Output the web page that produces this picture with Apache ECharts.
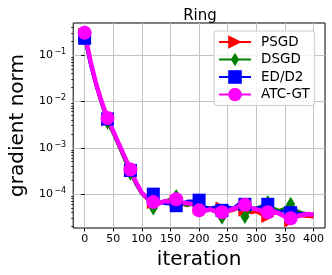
<!DOCTYPE html>
<html><head><meta charset="utf-8">
<script src="https://cdn.jsdelivr.net/npm/echarts@6/dist/echarts.min.js"></script>
<style>html,body{margin:0;padding:0;background:#fff}#c{width:332px;height:275px}</style>
</head><body><div id="c"></div>
<script>
const iterations = [0,10,20,30,40,50,60,70,80,90,100,110,120,130,140,150,160,170,180,190,200,210,220,230,240,250,260,270,280,290,300,310,320,330,340,350,360,370,380,390,400];
const markerIters = [0,40,80,120,160,200,240,280,320,360];
const psgd = [0.282,0.0708,0.0229,0.00912,0.00398,0.00214,0.00112,5.89e-4,3.16e-4,1.66e-4,1.05e-4,7.94e-5,6.61e-5,7.08e-5,6.31e-5,6.61e-5,7.08e-5,6.03e-5,5.62e-5,6.31e-5,5.01e-5,4.68e-5,5.01e-5,4.47e-5,5.01e-5,4.17e-5,4.47e-5,5.01e-5,4.47e-5,3.98e-5,4.17e-5,3.55e-5,3.31e-5,3.80e-5,3.98e-5,3.16e-5,2.63e-5,3.16e-5,3.39e-5,3.31e-5,3.16e-5];
const dsgd = [0.251,0.0661,0.0219,0.00832,0.00355,0.00200,0.00105,5.37e-4,2.82e-4,1.58e-4,1.0e-4,7.59e-5,5.01e-5,6.61e-5,7.08e-5,7.94e-5,8.91e-5,6.31e-5,5.62e-5,7.08e-5,5.25e-5,5.01e-5,4.79e-5,3.98e-5,3.16e-5,4.47e-5,5.01e-5,4.79e-5,3.31e-5,4.47e-5,5.01e-5,5.62e-5,6.61e-5,5.01e-5,4.47e-5,5.01e-5,6.03e-5,4.47e-5,3.98e-5,3.80e-5,3.63e-5];
const edd2 = [0.229,0.0631,0.0219,0.00891,0.00417,0.00219,0.00115,6.03e-4,3.24e-4,1.70e-4,1.05e-4,8.91e-5,1.0e-4,6.61e-5,6.31e-5,6.03e-5,5.62e-5,6.31e-5,7.08e-5,7.24e-5,7.41e-5,5.25e-5,5.01e-5,5.37e-5,4.47e-5,5.25e-5,5.01e-5,6.31e-5,6.03e-5,5.01e-5,5.01e-5,5.25e-5,6.03e-5,4.47e-5,4.17e-5,4.37e-5,3.98e-5,3.98e-5,3.80e-5,3.72e-5,3.55e-5];
const atcgt = [0.302,0.0759,0.0240,0.00955,0.00437,0.00229,0.00120,6.31e-4,3.39e-4,1.78e-4,1.07e-4,7.94e-5,6.76e-5,6.31e-5,7.08e-5,6.76e-5,7.76e-5,6.61e-5,6.31e-5,6.03e-5,4.47e-5,4.37e-5,4.68e-5,4.17e-5,4.07e-5,4.47e-5,4.79e-5,5.50e-5,5.89e-5,5.01e-5,4.68e-5,4.37e-5,4.07e-5,4.27e-5,3.80e-5,3.31e-5,3.02e-5,3.39e-5,3.55e-5,3.72e-5,3.63e-5];
const seriesNames = ['PSGD','DSGD','ED/D2','ATC-GT'];
const xTicks = [0,50,100,150,200,250,300,350,400];
const yTicks = [1e-4,1e-3,1e-2,1e-1];
const yMinorTicks = [2e-5,3e-5,4e-5,5e-5,6e-5,7e-5,8e-5,9e-5,2e-4,3e-4,4e-4,5e-4,6e-4,7e-4,8e-4,9e-4,2e-3,3e-3,4e-3,5e-3,6e-3,7e-3,8e-3,9e-3,2e-2,3e-2,4e-2,5e-2,6e-2,7e-2,8e-2,9e-2,2e-1,3e-1,4e-1];

const FONT = 'DejaVu Sans';
const chart = echarts.init(document.getElementById('c'), null, {renderer:'canvas'});
function mk(name, vals, color, symbol, size, width) {
  return {
    name, type:'line', data: iterations.map((x,i)=>[x, vals[i]]),
    color, symbol,
    symbolSize: (v) => markerIters.indexOf(v[0]) >= 0 ? size : 0,
    showSymbol: true, showAllSymbol: true,
    lineStyle: {color, width}, itemStyle: {color, opacity:1},
    emphasis: {disabled:true}, animation:false
  };
}
chart.setOption({
  backgroundColor:'#fff',
  animation:false,
  title:{text:'Ring', left:195, top:4, textAlign:'center',
    textStyle:{fontFamily:FONT, fontSize:15, fontWeight:'normal', color:'#000'}},
  grid:{left:62, right:7, top:23, bottom:47, show:true, borderColor:'#000', borderWidth:1, backgroundColor:'transparent'},
  legend:{
    data: seriesNames, orient:'vertical', left:214, top:31,
    padding:[4,5,4,4], itemGap:3.5, itemWidth:32, itemHeight:17,
    backgroundColor:'rgba(255,255,255,0.85)', borderColor:'#cccccc', borderWidth:1, borderRadius:3,
    textStyle:{fontFamily:FONT, fontSize:13.5, color:'#000', padding:[0,0,0,5]}
  },
  xAxis:{
    type:'value', min:-20, max:420,
    name:'iteration', nameLocation:'middle', nameGap:19,
    nameTextStyle:{fontFamily:FONT, fontSize:20, color:'#000'},
    axisLine:{show:false},
    axisTick:{show:true, length:3.5, customValues:xTicks, lineStyle:{color:'#000'}},
    axisLabel:{customValues:xTicks, fontFamily:FONT, fontSize:11, color:'#000', margin:6},
    splitLine:{show:true, lineStyle:{color:'#c4c4c4', width:1}}
  },
  yAxis:[{
    type:'log', min:1.86e-5, max:0.49, logBase:10,
    name:'gradient norm', nameLocation:'middle', nameGap:33,
    nameTextStyle:{fontFamily:FONT, fontSize:20, color:'#000'},
    axisLine:{show:false},
    axisTick:{show:true, length:3.5, customValues:yTicks, lineStyle:{color:'#000'}},
    axisLabel:{customValues:yTicks, margin:7, fontFamily:FONT, color:'#000',
      formatter:(v)=>'{b|10}{s|\u2212'+Math.round(-Math.log10(v))+'}',
      rich:{b:{fontFamily:FONT, fontSize:11, color:'#000'}, s:{fontFamily:FONT, fontSize:8, color:'#000', padding:[0,0,6,1.5]}}},
    splitLine:{show:true, lineStyle:{color:'#c4c4c4', width:1}}
  },{
    type:'log', min:1.86e-5, max:0.49, logBase:10, position:'left',
    axisLine:{show:false},
    axisTick:{show:true, length:2, customValues:yMinorTicks, lineStyle:{color:'#000', width:0.8}},
    axisLabel:{show:false}, splitLine:{show:false}
  }],
  series:[
    mk('PSGD', psgd, '#ff0000', 'path://M0,0L10,5L0,10Z', 13, 3),
    mk('DSGD', dsgd, '#008000', 'path://M0,0M15,15M7.5,0L12,7.5L7.5,15L3,7.5Z', 15, 3),
    mk('ED/D2', edd2, '#0000ff', 'rect', 13, 3),
    mk('ATC-GT', atcgt, '#ff00ff', 'circle', 14, 4.5)
  ]
});
</script></body></html>
